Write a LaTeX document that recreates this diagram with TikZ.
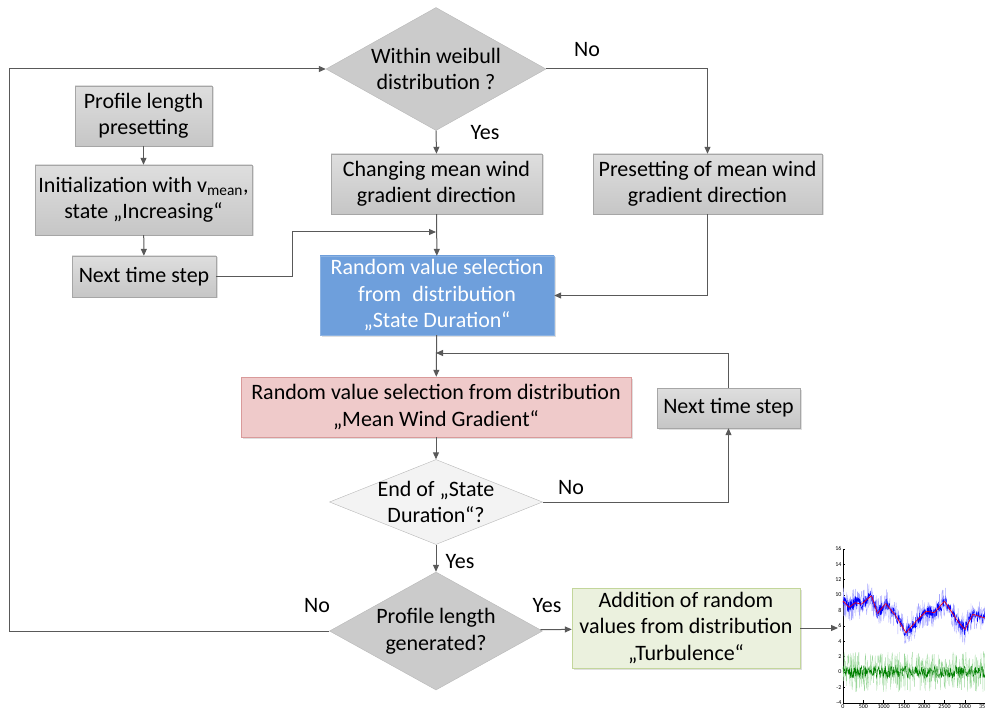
\documentclass[tikz,border=0pt]{standalone}
\usepackage{fontspec}
\setmainfont{Carlito}
\usetikzlibrary{shapes.geometric}
\usetikzlibrary{arrows.meta}
\usetikzlibrary{shadows}

\definecolor{linegray}{HTML}{595959}
\definecolor{edgegray}{HTML}{A6A6A6}
\definecolor{boxtop}{HTML}{DEDEDE}
\definecolor{boxbot}{HTML}{C6C6C6}
\definecolor{durblue}{HTML}{6E9FDC}
\definecolor{duredge}{HTML}{8DB3E2}
\definecolor{gradred}{HTML}{EFCACA}
\definecolor{gradedge}{HTML}{D99A9A}
\definecolor{turbgreen}{HTML}{EBF1DE}
\definecolor{turbedge}{HTML}{C3D69B}
\definecolor{askgray}{HTML}{CBCBCB}
\definecolor{asklight}{HTML}{F3F3F3}

\tikzset{
  txt/.style={font=\fontsize{22}{26.5}\selectfont},
  flowbox/.style={txt, draw=edgegray, top color=boxtop, bottom color=boxbot,
    align=center, inner sep=2pt, drop shadow={shadow xshift=1.5pt, shadow yshift=-1.5pt, opacity=0.25}},
  decision/.style={txt, diamond, draw=edgegray!80, fill=askgray, align=center, inner sep=-30pt},
  arr/.style={draw=linegray, line width=1pt, -{Triangle[length=7pt,width=6pt]}},
  ticklab/.style={font=\fontsize{6}{6}\selectfont, inner sep=0pt},
}

\begin{document}
\begin{tikzpicture}[x=1pt, y=-1pt]
\useasboundingbox (0,0) rectangle (985,711);

% Decisions
\node[decision, aspect=1.79, minimum width=220, minimum height=123] (weib) at (436,69) {Within weibull\\distribution ?};
\node[decision, aspect=2.5, minimum width=213, minimum height=85, fill=asklight] (endd) at (436,502) {End of „State\\Duration“?};
\node[decision, aspect=1.8, minimum width=213, minimum height=118] (plen) at (436,631) {Profile length\\generated?};

% Left column
\node[flowbox, minimum width=137, minimum height=60] (prof) at (143.5,116) {Profile length\\presetting};
\node[flowbox, minimum width=217, minimum height=70] (init) at (143.5,200) {Initialization with v\textsubscript{mean},\\state „Increasing“};
\node[flowbox, minimum width=144, minimum height=41] (next1) at (144,276.5) {Next time step};

% Middle column
\node[flowbox, minimum width=211, minimum height=60] (change) at (436.5,184) {Changing mean wind\\gradient direction};
\node[flowbox, minimum width=229, minimum height=60] (preset) at (707.5,184) {Presetting of mean wind\\gradient direction};
\node[flowbox, minimum width=234, minimum height=79, top color=durblue, bottom color=durblue, draw=duredge, text=white] (dur) at (437,295.5) {Random value selection\\from\enspace distribution\\„State Duration“};
\node[flowbox, minimum width=390, minimum height=60, top color=gradred, bottom color=gradred, draw=gradedge] (grad) at (436,407) {Random value selection from distribution\\„Mean Wind Gradient“};
\node[flowbox, minimum width=143, minimum height=40] (next2) at (728.5,408) {Next time step};
\node[flowbox, minimum width=228, minimum height=80, top color=turbgreen, bottom color=turbgreen, draw=turbedge] (turb) at (686,628) {Addition of random\\values from distribution\\„Turbulence“};

% Labels
\node[txt] (l1) at (587,50) {No};
\node[txt] (l2) at (485,133) {Yes};
\node[txt] (l3) at (571,488) {No};
\node[txt] (l4) at (460,562) {Yes};
\node[txt] (l5) at (317,606) {No};
\node[txt] (l6) at (547,606) {Yes};

% Junctions
\coordinate (jin) at (436,232);
\coordinate (jback) at (436,353);
\coordinate (plotin) at (838,628);

% Connectors
\draw[arr] (weib.south) -- (change.north);
\draw[arr] (weib.east) -| (preset.north);
\draw[arr] (prof) -- (init);
\draw[arr] (init) -- (next1);
\draw[arr] (next1.east) -- ++(76,0) |- (jin);
\draw[arr] (change) -- (dur);
\draw[arr] (preset.south) |- (dur.east);
\draw[arr] (dur) -- (grad);
\draw[arr] (next2.north) |- (jback);
\draw[arr] (grad) -- (endd);
\draw[arr] (endd.east) -| (next2.south);
\draw[arr] (endd) -- (plen);
\draw[arr] (plen.west) -- ++(-320,0) |- (weib.west);
\draw[arr] (plen) -- (turb);
\draw[arr] (turb.east) -- (plotin);

% Wind profile plot
\begin{scope}
\clip (828,545) rectangle (985,711);
\begin{scope}[shift={(843,672)}, x=0.0406pt, y=7.7pt]
\pgfmathsetseed{7}
\draw[line width=0.4pt] (0,-4) -- (0,16);
\draw[line width=0.4pt] (0,-4) -- (4000,-4);
\foreach \v in {-4,-2,...,16}
  \draw[line width=0.3pt] (0,\v) -- (40,\v) node[ticklab, left=1.5pt] at (0,\v) {\v};
\foreach \t in {0,500,...,3500}
  \draw[line width=0.3pt] (\t,-4) -- (\t,-3.7) node[ticklab, below=1.5pt] at (\t,-4) {\t};
% noise bands
\draw[green!60!black!40, line width=0.3pt] plot[domain=0:4000, samples=420] (\x,{2.6*rand});
\draw[green!50!black, line width=0.4pt] plot[domain=0:4000, samples=420] (\x,{0.8*rand});
\foreach \ta/\ma/\tb/\mb in {0/9.2/150/8.4, 150/8.4/300/9.0, 300/9.0/450/8.8, 450/8.8/700/9.9,
    700/9.9/850/7.6, 850/7.6/1050/8.9, 1050/8.9/1300/7.3, 1300/7.3/1550/5.1,
    1550/5.1/1800/6.6, 1800/6.6/2050/7.9, 2050/7.9/2250/7.7, 2250/7.7/2500/9.2,
    2500/9.2/2800/6.8, 2800/6.8/3000/5.5, 3000/5.5/3200/7.5, 3200/7.5/3500/7.0, 3500/7.0/4000/7.2}
{
  \draw[blue!35, line width=0.3pt] plot[domain=\ta:\tb, samples=30] (\x,{\ma+(\mb-\ma)*(\x-\ta)/(\tb-\ta)+2.0*rand});
  \draw[blue, line width=0.4pt] plot[domain=\ta:\tb, samples=30] (\x,{\ma+(\mb-\ma)*(\x-\ta)/(\tb-\ta)+0.8*rand});
  \draw[red, line width=0.6pt] (\ta,\ma) -- (\tb,\mb);
}
\end{scope}
\end{scope}
\end{tikzpicture}
\end{document}
